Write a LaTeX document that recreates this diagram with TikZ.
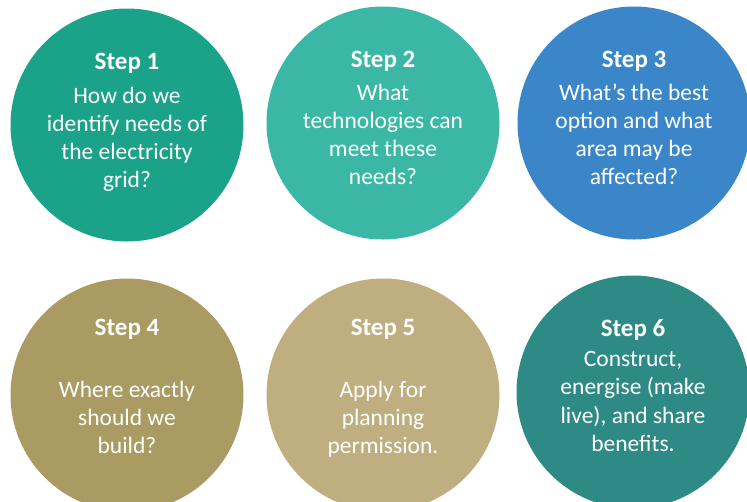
\documentclass[tikz,border=0pt]{standalone}
\usepackage{fontspec}
\setmainfont{Carlito}
\usetikzlibrary{positioning}

\definecolor{stepone}{RGB}{27,163,138}
\definecolor{steptwo}{RGB}{59,184,165}
\definecolor{stepthree}{RGB}{58,134,200}
\definecolor{stepfour}{RGB}{169,155,98}
\definecolor{stepfive}{RGB}{191,175,128}
\definecolor{stepsix}{RGB}{46,138,133}

\newcommand{\stephead}[1]{{\fontsize{25}{28}\selectfont\bfseries #1}}

\begin{document}
\begin{tikzpicture}[x=1pt, y=-1pt, align=center,
  stepcircle/.style={circle, minimum size=233pt, inner sep=0pt},
  steptext/.style={anchor=north, inner sep=0pt, text=white,
    font=\fontsize{23.5}{28.2}\selectfont}]

\useasboundingbox (0, 0) rectangle (747, 501);
\clip (0, 0) rectangle (747, 501);

\node[stepcircle, fill=stepone] (one) at (127, 125) {};
\node[stepcircle, fill=steptwo] (two) at (383, 123) {};
\node[stepcircle, fill=stepthree] (three) at (634, 123) {};
\node[stepcircle, fill=stepfour] (four) at (127, 395) {};
\node[stepcircle, fill=stepfive] (five) at (383, 395) {};
\node[stepcircle, fill=stepsix] (six) at (633, 392) {};

\node[steptext] (onetext) at ([yshift=-45pt]one.north) {\stephead{Step 1}\\[5pt] How do we\\ identify needs of\\ the electricity\\ grid?};
\node[steptext] (twotext) at ([yshift=-45pt]two.north) {\stephead{Step 2}\\[4pt] What\\ technologies can\\ meet these\\ needs?};
\node[steptext] (threetext) at ([yshift=-45pt]three.north) {\stephead{Step 3}\\[4pt] What’s the best\\ option and what\\ area may be\\ affected?};
\node[steptext] (fourtext) at ([yshift=-41pt]four.north) {\stephead{Step 4}\\[33pt] Where exactly\\ should we\\ build?};
\node[steptext] (fivetext) at ([yshift=-41pt]five.north) {\stephead{Step 5}\\[33pt] Apply for\\ planning\\ permission.};
\node[steptext] (sixtext) at ([yshift=-44pt]six.north) {\stephead{Step 6}\\[2pt] Construct,\\ energise (make\\ live), and share\\ benefits.};

\end{tikzpicture}
\end{document}
